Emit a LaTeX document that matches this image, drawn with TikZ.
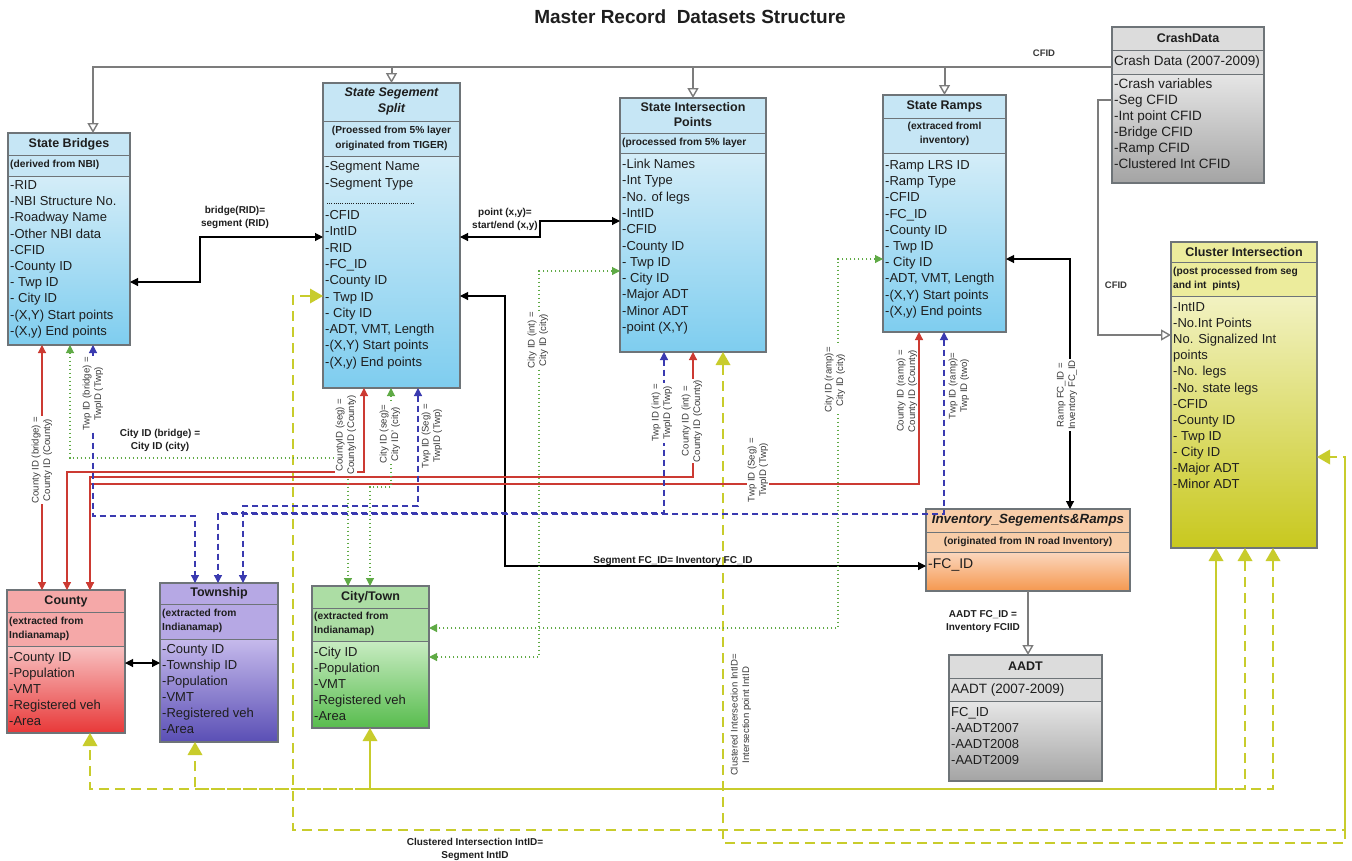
\documentclass[tikz,border=0pt]{standalone}
\usepackage{fontspec}
\setmainfont{Liberation Sans}
\usetikzlibrary{arrows.meta,calc}
\definecolor{boxline}{HTML}{6E7478}
\definecolor{txt}{HTML}{1E1E1E}
\definecolor{lbltxt}{HTML}{3A3A3A}
\definecolor{bluehead}{HTML}{C6E6F5}
\definecolor{bluetop}{HTML}{D4EDF8}
\definecolor{bluebot}{HTML}{7ECDEF}
\definecolor{grayhead}{HTML}{DCDCDC}
\definecolor{graytop}{HTML}{E6E6E6}
\definecolor{graybot}{HTML}{A4A4A4}
\definecolor{yelhead}{HTML}{ECEC9C}
\definecolor{yeltop}{HTML}{F2F2C2}
\definecolor{yelbot}{HTML}{C8C81E}
\definecolor{orahead}{HTML}{F8CDA8}
\definecolor{oratop}{HTML}{FBD7BE}
\definecolor{orabot}{HTML}{F5984F}
\definecolor{redhead}{HTML}{F5A8A8}
\definecolor{redtop}{HTML}{F8C2C2}
\definecolor{redbot}{HTML}{E83838}
\definecolor{purhead}{HTML}{B6A8E4}
\definecolor{purtop}{HTML}{C6BAEC}
\definecolor{purbot}{HTML}{5A4FB5}
\definecolor{grnhead}{HTML}{ACDDA4}
\definecolor{grntop}{HTML}{C8ECC2}
\definecolor{grnbot}{HTML}{58BC4E}
\definecolor{gline}{HTML}{7C7C7C}
\definecolor{rline}{HTML}{CC3A32}
\definecolor{bline}{HTML}{3A3AB0}
\definecolor{dline}{HTML}{5FAA45}
\definecolor{yline}{HTML}{C8CC2C}
\tikzset{
  boxnode/.style={rectangle, inner sep=0pt, outer sep=0pt, anchor=north west, draw=none},
  boxedge/.style={draw=boxline, line width=1.4pt},
  sepline/.style={draw=boxline, line width=1pt},
  hdr/.style={font=\fontsize{12.5}{15}\selectfont\bfseries, inner sep=0pt, align=center, text=txt},
  hdri/.style={font=\fontsize{12.5}{15.5}\selectfont\bfseries\itshape, inner sep=0pt, align=center, text=txt},
  subt/.style={font=\fontsize{10.2}{14.5}\selectfont\bfseries, inner sep=0pt, text=txt},
  subn/.style={font=\fontsize{13.5}{14}\selectfont, inner sep=0pt, text=txt},
  itm/.style={font=\fontsize{13}{14}\selectfont, inner sep=0pt, text=txt, anchor=base west},
  itmd/.style={font=\fontsize{13.5}{14}\selectfont, inner sep=0pt, text=txt, anchor=base west},
  itmc/.style={font=\fontsize{14}{15}\selectfont, inner sep=0pt, text=txt, anchor=base west},
  lbl/.style={font=\fontsize{10}{13}\selectfont\bfseries, inner sep=1pt, align=center, text=txt},
  rlbl/.style={font=\fontsize{9.6}{11.5}\selectfont, inner sep=1pt, align=center, rotate=90, text=lbltxt, fill=white},
  grayc/.style={draw=gline, line width=2pt},
  blkc/.style={draw=black, line width=1.1pt},
  redc/.style={draw=rline, line width=1.2pt},
  bluec/.style={draw=bline, line width=1.2pt, dash pattern=on 6pt off 4pt},
  grnc/.style={draw=dline, line width=1.1pt, dash pattern=on 1.5pt off 2.5pt},
  yelc/.style={draw=yline, line width=2.6pt},
  yeld/.style={draw=yline, line width=2.6pt, dash pattern=on 10pt off 6pt},
  opentri/.tip={Triangle[open, fill=white, length=10pt, width=11pt, line width=1.4pt]},
  blktri/.tip={Triangle[length=8pt, width=8pt]},
  ctri/.tip={Triangle[length=8pt, width=8pt]},
  yeltri/.tip={Triangle[length=13pt, width=15pt, line width=0pt]}
}
\newcommand\umlbox[8]{%
  \node[boxnode, fill=#8head, minimum width=#4, minimum height=#5] (#1) at (#2,#3) {};
  \shade[top color=#8top, bottom color=#8bot] ($(#1.north west)+(0,#7)$) rectangle (#1.south east);
  \draw[sepline] ($(#1.north west)+(0,#6)$) -- ($(#1.north east)+(0,#6)$);
  \draw[sepline] ($(#1.north west)+(0,#7)$) -- ($(#1.north east)+(0,#7)$);
  \draw[boxedge] (#1.north west) rectangle (#1.south east);
}
\newcommand\itemlist[6]{%
  \foreach \t [count=\i] in {#6} {
    \node[#1] (#2-\i) at ({#3},{#4+(\i-1)*#5}) {\t};
  }
}
\begin{document}
\begin{tikzpicture}[x=1pt,y=-1pt]
\useasboundingbox (0,0) rectangle (1352,860);
\fill[white] (0,0) rectangle (1352,860);
\node[font=\fontsize{19}{21}\selectfont\bfseries, text=txt] (title) at (690,17) {Master Record\ \ Datasets Structure};

% ---------------- boxes ----------------
\umlbox{sb}{8}{133}{122}{212}{22}{43}{blue}
\node[hdr] (sb-h) at ($(sb.north)+(0,11)$) {State Bridges};
\node[subt, anchor=west] (sb-s) at ($(sb.north west)+(2,32)$) {(derived from NBI)};
\itemlist{itm}{sbi}{10}{189.5}{16.2}{-RID,-NBI Structure No.,-Roadway Name,-Other NBI data,-CFID,-County ID,-\ Twp ID,-\ City ID,{-(X,Y) Start points},{-(X,y) End points}}

\umlbox{ss}{323}{83}{137}{305}{38}{73}{blue}
\node[hdri] (ss-h) at ($(ss.north)+(0,18.5)$) {State Segement\\Split};
\node[subt, align=center] (ss-s) at ($(ss.north)+(0,55.5)$) {(Proessed from 5\% layer\\originated from TIGER)};
\itemlist{itm}{ssa}{325}{170.5}{17}{-Segment Name,-Segment Type}
\draw[draw=txt, line width=0.8pt, dash pattern=on 1pt off 1.2pt] ($(ss.north west)+(4,120)$) -- ($(ss.north west)+(92,120)$);
\itemlist{itm}{ssi}{325}{219.5}{16.3}{-CFID,-IntID,-RID,-FC\_ID,-County ID,-\ Twp ID,-\ City ID,{-ADT, VMT, Length},{-(X,Y) Start points},{-(X,y) End points}}

\umlbox{si}{620}{98}{146}{254}{35}{55}{blue}
\node[hdr] (si-h) at ($(si.north)+(0,17)$) {State Intersection\\Points};
\node[subt, anchor=west] (si-s) at ($(si.north west)+(2,45)$) {(processed from 5\% layer};
\itemlist{itm}{sii}{622}{168.5}{16.3}{-Link Names,-Int Type,-No. of legs,-IntID,-CFID,-County ID,-\ Twp ID,-\ City ID,-Major ADT,-Minor ADT,{-point (X,Y)}}

\umlbox{sr}{883}{95}{123}{237}{23}{58}{blue}
\node[hdr] (sr-h) at ($(sr.north)+(0,11.5)$) {State Ramps};
\node[subt, align=center] (sr-s) at ($(sr.north)+(0,39)$) {(extraced froml\\inventory)};
\itemlist{itm}{sri}{885}{169.5}{16.2}{-Ramp LRS ID,-Ramp Type,-CFID,-FC\_ID,-County ID,-\ Twp ID,-\ City ID,{-ADT, VMT, Length},{-(X,Y) Start points},{-(X,y) End points}}

\umlbox{cd}{1112}{27}{152}{156}{23}{47}{gray}
\node[hdr] (cd-h) at ($(cd.north)+(0,11.5)$) {CrashData};
\node[subn, anchor=west] (cd-s) at ($(cd.north west)+(2,35)$) {Crash Data (2007-2009)};
\itemlist{itmd}{cdi}{1114}{88.5}{16}{-Crash variables,-Seg CFID,-Int point CFID,-Bridge CFID,-Ramp CFID,-Clustered Int CFID}

\umlbox{ci}{1171}{242}{146}{306}{20}{54}{yel}
\node[hdr] (ci-h) at ($(ci.north)+(0,10.5)$) {Cluster Intersection};
\node[subt, anchor=west, align=left] (ci-s) at ($(ci.north west)+(2,37)$) {(post processed from seg\\and int\ \ pints)};
\itemlist{itm}{cii}{1173}{311.5}{16.1}{-IntID,-No.Int Points,No. Signalized Int,points,-No. legs,-No. state legs,-CFID,-County ID,-\ Twp ID,-\ City ID,-Major ADT,-Minor ADT}

\umlbox{inv}{926}{509}{204}{82}{23}{43}{ora}
\node[hdri, font=\fontsize{13.3}{15.5}\selectfont\bfseries\itshape] (inv-h) at ($(inv.north)+(0,11.5)$) {Inventory\_Segements\&Ramps};
\node[subt] (inv-s) at ($(inv.north)+(0,33)$) {(originated from IN road Inventory)};
\itemlist{itmc}{invi}{928}{568}{16}{-FC\_ID}

\umlbox{aadt}{949}{655}{153}{126}{23}{46}{gray}
\node[hdr] (aadt-h) at ($(aadt.north)+(0,11.5)$) {AADT};
\node[subn, anchor=west] (aadt-s) at ($(aadt.north west)+(2,34.5)$) {AADT (2007-2009)};
\itemlist{itm}{aadti}{951}{716.5}{16}{FC\_ID,-AADT2007,-AADT2008,-AADT2009}

\umlbox{cty}{7}{590}{118}{143}{22}{56}{red}
\node[hdr] (cty-h) at ($(cty.north)+(0,11)$) {County};
\node[subt, anchor=west, align=left] (cty-s) at ($(cty.north west)+(2,39)$) {(extracted from\\Indianamap)};
\itemlist{itm}{ctyi}{9}{661.5}{16}{-County ID,-Population,-VMT,-Registered veh,-Area}

\umlbox{twp}{160}{583}{118}{159}{21}{56}{pur}
\node[hdr] (twp-h) at ($(twp.north)+(0,10.5)$) {Township};
\node[subt, anchor=west, align=left] (twp-s) at ($(twp.north west)+(2,38)$) {(extracted from\\Indianamap)};
\itemlist{itm}{twpi}{162}{653.5}{16}{-County ID,-Township ID,-Population,-VMT,-Registered veh,-Area}

\umlbox{city}{312}{586}{117}{142}{22}{55}{grn}
\node[hdr] (city-h) at ($(city.north)+(0,11)$) {City/Town};
\node[subt, anchor=west, align=left] (city-s) at ($(city.north west)+(2,38)$) {(extracted from\\Indianamap)};
\itemlist{itm}{cityi}{314}{656.5}{16}{-City ID,-Population,-VMT,-Registered veh,-Area}

% ---------------- gray connectors ----------------
\coordinate (topbus) at (0,67);
\draw[grayc, -opentri] ($(cd.north west)+(0,40)$) -| ($(sb.north west)+(85,0)$);
\draw[grayc, -opentri] (ss.north |- topbus) -- (ss.north);
\draw[grayc, -opentri] (si.north |- topbus) -- (si.north);
\draw[grayc, -opentri] (sr.north |- topbus) -- (sr.north);
\node[lbl, font=\fontsize{9.5}{11}\selectfont\bfseries, text=lbltxt] (cfid1) at (1044,53) {CFID};
\draw[grayc, -opentri] ($(cd.north west)+(0,73)$) -- ++(-14,0) |- ($(ci.north west)+(0,93)$);
\node[lbl, font=\fontsize{9.5}{11}\selectfont\bfseries, text=lbltxt] (cfid2) at (1116,285) {CFID};
\draw[grayc, -opentri] ($(inv.south west)+(102,0)$) -- ($(aadt.north west)+(79,0)$);
\node[lbl] (aadtl) at (983,622) {AADT FC\_ID =\\Inventory FCIID};

% ---------------- yellow connectors ----------------
\draw[yeld, yeltri-yeltri] ($(ss.north west)+(0,213)$) -- ++(-30,0) -- ++(0,534) -- ++(1052,0) |- ($(ci.north east)+(0,215)$);
\draw[yeld, yeltri-] ($(si.south west)+(103,0)$) -- ++(0,491) -| ($(ci.north east)+(28,215)$);
\draw[yeld, yeltri-yeltri] ($(ci.south west)+(102,0)$) -- ++(0,241) -| ($(cty.south west)+(83,0)$);
\draw[yeld, yeltri-yeltri] ($(ci.south west)+(74,0)$) -- ++(0,241) -| ($(twp.south west)+(35,0)$);
\draw[yelc, yeltri-yeltri] ($(ci.south west)+(45,0)$) -- ++(0,241) -| ($(city.south west)+(58,0)$);

% ---------------- black connectors ----------------
\draw[blkc, blktri-blktri] ($(sb.north east)+(0,149)$) -- ++(70,0) |- ($(ss.north west)+(0,154)$);
\node[lbl] (bridl) at (235,217) {bridge(RID)=\\segment (RID)};
\draw[blkc, blktri-blktri] ($(ss.north east)+(0,154)$) -- ++(80,0) |- ($(si.north west)+(0,123)$);
\node[lbl] (pointl) at (505,219) {point (x,y)=\\start/end (x,y)};
\draw[blkc, blktri-blktri] ($(ss.north east)+(0,213)$) -- ++(45,0) |- ($(inv.north west)+(0,57)$);
\node[lbl] (fcl) at (673,561) {Segment FC\_ID= Inventory FC\_ID};
\draw[blkc, blktri-blktri] ($(sr.north east)+(0,164)$) -| ($(inv.north west)+(144,0)$);
\draw[blkc, blktri-blktri] ($(cty.north east)+(0,73)$) -- ($(twp.north west)+(0,80)$);

% ---------------- red connectors ----------------
\draw[redc, ctri-ctri] ($(sb.south west)+(34,0)$) -- ($(cty.north west)+(35,0)$);
\draw[redc, ctri-ctri] ($(ss.south west)+(41,0)$) -- ++(0,84) -| ($(cty.north west)+(60,0)$);
\draw[redc, ctri-ctri] ($(si.south west)+(73,0)$) -- ++(0,125) -| ($(cty.north west)+(83,0)$);
\draw[redc, ctri-ctri] ($(sr.south west)+(36,0)$) -- ++(0,152) -| ($(cty.north west)+(83,0)$);

% ---------------- green dotted connectors ----------------
\draw[grnc, ctri-ctri] ($(sb.south west)+(62,0)$) -- ++(0,113) -| ($(city.north west)+(36,0)$);
\draw[grnc, ctri-ctri] ($(ss.south west)+(68,0)$) -- ++(0,99) -| ($(city.north west)+(58,0)$);
\draw[grnc, ctri-ctri] ($(si.north west)+(0,173)$) -- ++(-81,0) |- ($(city.north east)+(0,71)$);
\draw[grnc, ctri-ctri] ($(sr.north west)+(0,164)$) -- ++(-45,0) |- ($(city.north east)+(0,42)$);

% ---------------- blue dashed connectors ----------------
\draw[bluec, ctri-ctri] ($(sb.south west)+(85,0)$) -- ++(0,171) -| ($(twp.north west)+(35,0)$);
\draw[bluec, ctri-ctri] ($(ss.south west)+(95,0)$) -- ++(0,118) -| ($(twp.north west)+(83,0)$);
\draw[bluec, ctri-ctri] ($(si.south west)+(44,0)$) -- ++(0,161) -| ($(twp.north west)+(58,0)$);
\draw[bluec, ctri-] ($(sr.south west)+(61,0)$) -- ++(0,182) -| ($(twp.north west)+(58,0)$);

% ---------------- labels ----------------
\node[lbl] (cityl) at (160,440) {City ID (bridge) =\\City ID (city)};
\node[rlbl] (l1) at (42,460) {County ID (bridge) =\\County ID (County)};
\node[rlbl] (l2) at (93,394) {Twp ID (bridge) =\\TwpID (Twp)};
\node[rlbl] (l3) at (346,435) {CountyID (seg) =\\CountyID (County)};
\node[rlbl] (l4) at (390,434) {City ID (seg)=\\City ID' (city)};
\node[rlbl] (l5) at (432,436) {Twp ID (Seg) =\\TwpID (Twp)};
\node[rlbl] (l6) at (538,340) {City ID (int) =\\City ID (city)};
\node[rlbl] (l7) at (662,413) {Twp ID (int) =\\TwpID (Twp)};
\node[rlbl] (l8) at (692,421) {County ID (int) =\\County ID (County)};
\node[rlbl] (l9) at (758,470) {Twp ID (Seg) =\\TwpID (Twp)};
\node[rlbl] (l10) at (835,380) {City ID (ramp)=\\City ID (city)};
\node[rlbl] (l11) at (907,391) {County ID (ramp) =\\County ID (County)};
\node[rlbl] (l12) at (959,386) {Twp ID (ramp)=\\Twp ID (two)};
\node[rlbl] (l13) at (1067,395) {Ramp FC\_ID =\\Inventory FC\_ID};
\node[rlbl, font=\fontsize{9.6}{11.5}\selectfont] (l14) at (741,715) {Clustered Intersection IntID=\\Intersection point IntID};
\node[lbl] (clsl) at (475,849) {Clustered Intersection IntID=\\Segment IntID};
\end{tikzpicture}
\end{document}
